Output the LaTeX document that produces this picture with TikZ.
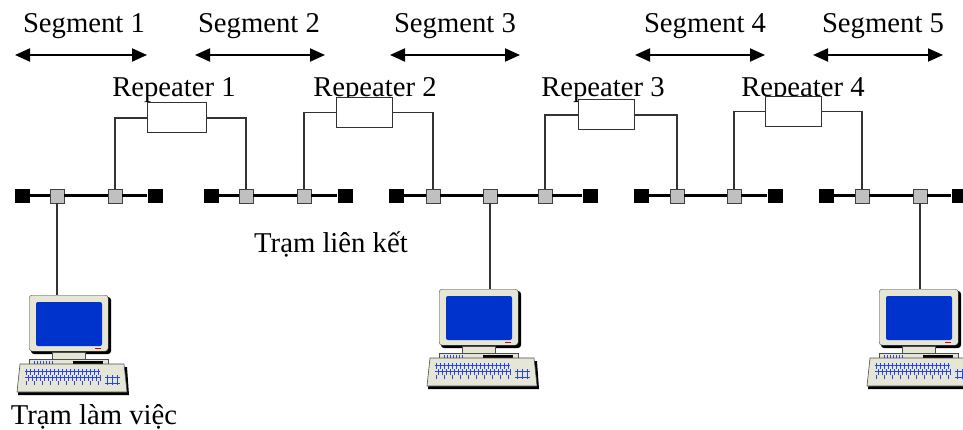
\documentclass[tikz,border=0pt]{standalone}
\usepackage{fontspec}
\setmainfont{Liberation Serif}
\usetikzlibrary{arrows.meta}
\definecolor{beige}{RGB}{230,230,214}
\definecolor{screenblue}{RGB}{0,51,204}
\definecolor{keyblue}{RGB}{40,70,225}
\definecolor{portgray}{RGB}{192,192,192}
\begin{document}
\begin{tikzpicture}[x=1pt,y=-1pt]
	\tikzset{term/.style={rectangle, fill=black, minimum width=15pt, minimum height=14pt, inner sep=0pt},
		port/.style={rectangle, draw=black!75, fill=portgray, line width=0.8pt, minimum size=14pt, inner sep=0pt},
		rep/.style={rectangle, draw=black!80, line width=1pt, minimum width=56pt, minimum height=30pt, inner sep=0pt},
		lbl/.style={font=\fontsize{28.7}{30}\selectfont, inner sep=0pt, anchor=base},
		bus/.style={line width=3pt},
		wire/.style={line width=1.2pt, draw=black!80},
		span/.style={<->, line width=2pt, >={Triangle[length=15pt,width=13pt]}},
		keys/.style={keyblue, line width=1pt},
		computer/.pic={
			% monitor with its shadow
			\fill[black, rounded corners=3pt] (2,2) rectangle (82,59);
			\node[draw=black!70, fill=beige, rounded corners=3pt, minimum width=79pt, minimum height=56pt, inner sep=0pt, anchor=north west] (-mon) at (0,0) {};
			\fill[screenblue, rounded corners=2pt] (7,7) rectangle (73,51);
			\fill[red!85!black] (66,52.5) rectangle (72,54);
			% neck and system unit
			\filldraw[fill=beige, draw=black!70, line width=0.6pt] (23,57) rectangle (56,64);
			\filldraw[fill=beige, draw=black!70, line width=0.6pt] (0,64) rectangle (79,70);
			\fill[black] (44,66) rectangle (74,70);
			\foreach \k in {5,8,...,23} \draw[keys] (\k,66) -- (\k,69.5);
			% keyboard
			\fill[black] (-8,72) -- (98,72) -- (100,100) -- (-11,100) -- cycle;
			\filldraw[fill=beige, draw=black!70, line width=0.6pt] (-9,69) -- (95,69) -- (98,97) -- (-12,97) -- cycle;
			\draw[keys] (-4,76) -- (71,76) (-4,82) -- (71,82) (76,82) -- (91,82) (76,88) -- (91,88);
			\foreach \k in {-3,1,...,71} \draw[keys] (\k,74) -- (\k,80) (\k+2,80) -- (\k+2,86);
			\foreach \k in {-3,5,...,71} \draw[keys] (\k,86) -- (\k,90);
			\foreach \k in {78,83,...,91} \draw[keys] (\k,80) -- (\k,90);
		}}
	\useasboundingbox (0,0) rectangle (963,430);
	% segment spans
	\coordinate (s1l) at ( 15,55); \coordinate (s1r) at (147,55);
	\coordinate (s2l) at (195,55); \coordinate (s2r) at (325,55);
	\coordinate (s3l) at (390,55); \coordinate (s3r) at (520,55);
	\coordinate (s4l) at (635,55); \coordinate (s4r) at (765,55);
	\coordinate (s5l) at (813,55); \coordinate (s5r) at (943,55);
	\draw[span] (s1l)--(s1r);
	\draw[span] (s2l)--(s2r);
	\draw[span] (s3l)--(s3r);
	\draw[span] (s4l)--(s4r);
	\draw[span] (s5l)--(s5r);
	\node[lbl] (seg1) at ( 84,33) {Segment 1};
	\node[lbl] (seg2) at (259,33) {Segment 2};
	\node[lbl] (seg3) at (455,33) {Segment 3};
	\node[lbl] (seg4) at (705,33) {Segment 4};
	\node[lbl] (seg5) at (883,33) {Segment 5};
	% cable segments
	\node[term] (t1a) at ( 22,196) {};
	\node[port] (p1a) at ( 57,196) {};
	\node[port] (p1b) at (115,196) {};
	\node[term] (t1b) at (155,196) {};
	\node[term] (t2a) at (211,196) {};
	\node[port] (p2a) at (246,196) {};
	\node[port] (p2b) at (304,196) {};
	\node[term] (t2b) at (345,196) {};
	\node[term] (t3a) at (396,196) {};
	\node[port] (p3a) at (433,196) {};
	\node[port] (p3b) at (490,196) {};
	\node[port] (p3c) at (545,196) {};
	\node[term] (t3b) at (590,196) {};
	\node[term] (t4a) at (641,196) {};
	\node[port] (p4a) at (677,196) {};
	\node[port] (p4b) at (734,196) {};
	\node[term] (t4b) at (775,196) {};
	\node[term] (t5a) at (826,196) {};
	\node[port] (p5a) at (862,196) {};
	\node[port] (p5b) at (920,196) {};
	\node[term] (t5b) at (959,196) {};
	\draw[bus] (t1a)--(p1a)--(p1b)--(t1b);
	\draw[bus] (t2a)--(p2a)--(p2b)--(t2b);
	\draw[bus] (t3a)--(p3a)--(p3b)--(p3c)--(t3b);
	\draw[bus] (t4a)--(p4a)--(p4b)--(t4b);
	\draw[bus] (t5a)--(p5a)--(p5b)--(t5b);
	% repeaters
	\node[lbl] (rl1) at (174,97) {Repeater 1};
	\node[lbl] (rl2) at (375,97) {Repeater 2};
	\node[lbl] (rl3) at (603,97) {Repeater 3};
	\node[lbl] (rl4) at (803,97) {Repeater 4};
	\node[rep, fill=white, minimum width=59pt] (r1) at (176.5,118) {};
	\node[rep, fill=white] (r2) at (364.5,112.5) {};
	\node[rep, fill=white] (r3) at (606.5,115) {};
	\node[rep, fill=white] (r4) at (793.5,111.5) {};
	\draw[wire] (r1.west) -| (p1b);
	\draw[wire] (r1.east) -| (p2a);
	\draw[wire] (r2.west) -| (p2b);
	\draw[wire] (r2.east) -| (p3a);
	\draw[wire] (r3.west) -| (p3c);
	\draw[wire] (r3.east) -| (p4a);
	\draw[wire] (r4.west) -| (p4b);
	\draw[wire] (r4.east) -| (p5a);
	% workstations
	\pic (pc1) at ( 29,295) {computer};
	\pic (pc2) at (439,289) {computer};
	\pic (pc3) at (879,289) {computer};
	\draw[wire] (p1a) -- (p1a |- pc1-mon.north);
	\draw[wire] (p3b) -- (p3b |- pc2-mon.north);
	\draw[wire] (p5b) -- (p5b |- pc3-mon.north);
	\node[lbl] (link) at (331,252) {Trạm liên kết};
	\node[lbl] (work) at ( 94,424) {Trạm làm việc};
\end{tikzpicture}
\end{document}
